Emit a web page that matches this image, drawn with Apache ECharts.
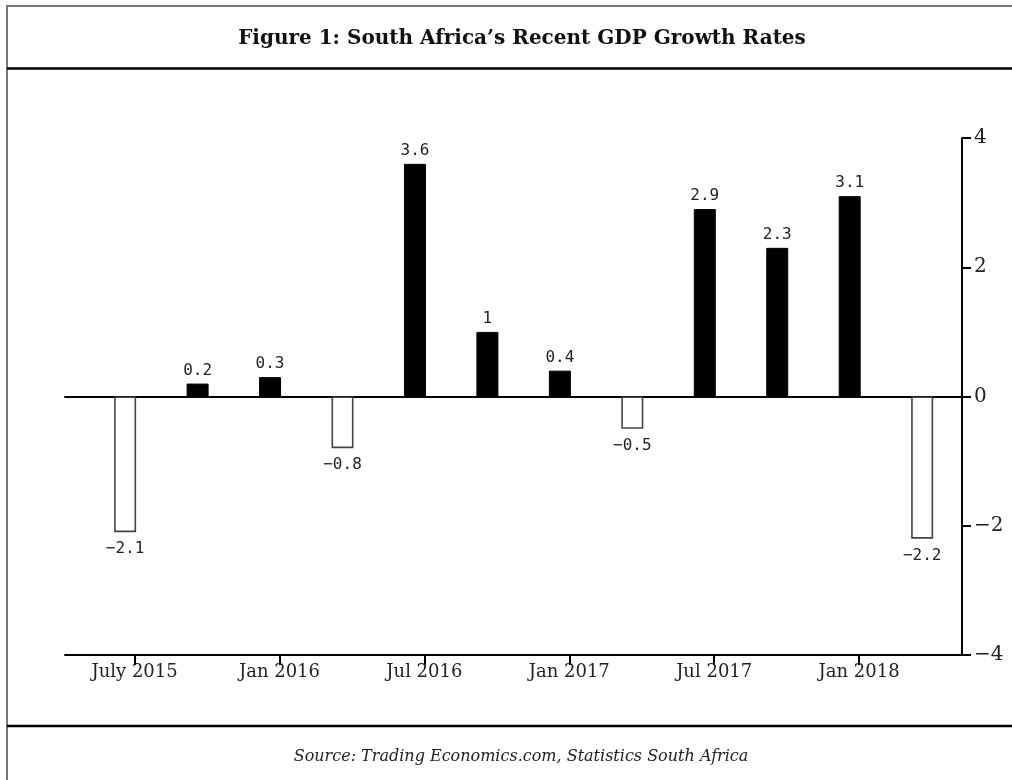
<!DOCTYPE html>
<html>
<head>
<meta charset="utf-8">
<script src="https://cdn.jsdelivr.net/npm/echarts@6/dist/echarts.min.js"></script>
<style>
html,body{margin:0;padding:0;background:#fff;}
#chart{width:1012px;height:780px;}
</style>
</head>
<body>
<div id="chart"></div>
<script>
// Quarterly GDP growth (annualised, %)
const quarters = ['Q3 2015','Q4 2015','Q1 2016','Q2 2016','Q3 2016','Q4 2016','Q1 2017','Q2 2017','Q3 2017','Q4 2017','Q1 2018','Q2 2018'];
const growth = [-2.1, 0.2, 0.3, -0.8, 3.6, 1, 0.4, -0.5, 2.9, 2.3, 3.1, -2.2];
const tickLabels = ['July 2015','Jan 2016','Jul 2016','Jan 2017','Jul 2017','Jan 2018'];
const yTicks = [-4, -2, 0, 2, 4];
const titleText = 'Figure 1: South Africa\u2019s Recent GDP Growth Rates';
const sourceText = 'Source: Trading Economics.com, Statistics South Africa';

const tickOffset = 0.13;
const tickPositions = tickLabels.map((_, k) => 2 * k + tickOffset);
const minus = s => String(s).replace('-', '\u2212');

const chart = echarts.init(document.getElementById('chart'), null, {renderer: 'canvas'});

const barData = growth.map((v, i) => ({
  value: [i, v],
  name: quarters[i],
  itemStyle: v >= 0
    ? {color: '#000', borderColor: '#000', borderWidth: 1}
    : {color: '#fff', borderColor: '#444', borderWidth: 1.6},
  label: v >= 0 ? {position: 'top', distance: 5} : {position: 'bottom', distance: 9}
}));

const option = {
  backgroundColor: '#fff',
  animation: false,
  title: [
    {
      text: titleText, left: 517, top: 24, textAlign: 'center',
      textStyle: {fontFamily: 'DejaVu Serif', fontWeight: 'bold', fontSize: 20, color: '#111'}
    },
    {
      text: sourceText, left: 516, top: 744, textAlign: 'center',
      textStyle: {fontFamily: 'DejaVu Serif', fontStyle: 'italic', fontWeight: 'normal', fontSize: 16, color: '#222'}
    }
  ],
  graphic: [
    {type: 'rect', shape: {x: 7, y: 6, width: 1100, height: 900}, style: {fill: null, stroke: '#777', lineWidth: 2}, silent: true},
    {type: 'line', shape: {x1: 7, y1: 68.5, x2: 1012, y2: 68.5}, style: {stroke: '#000', lineWidth: 2.5}, silent: true},
    {type: 'line', shape: {x1: 7, y1: 726, x2: 1012, y2: 726}, style: {stroke: '#000', lineWidth: 2.5}, silent: true}
  ],
  grid: {left: 65, right: 50, top: 138, bottom: 125, containLabel: false},
  xAxis: [
    {
      type: 'value', min: -0.83, max: 11.55, position: 'bottom',
      axisLine: {show: true, onZero: false, lineStyle: {color: '#000', width: 2}},
      axisTick: {show: true, length: 10, customValues: tickPositions, lineStyle: {color: '#000', width: 2}},
      axisLabel: {
        show: true, customValues: tickPositions, margin: 8,
        fontFamily: 'DejaVu Serif', fontSize: 18, color: '#222',
        formatter: v => {
          const k = tickPositions.findIndex(p => Math.abs(p - v) < 0.01);
          return k >= 0 ? tickLabels[k] : '';
        }
      },
      splitLine: {show: false}
    },
    {
      type: 'value', min: -0.83, max: 11.55, position: 'top',
      axisLine: {show: true, onZero: true, lineStyle: {color: '#000', width: 2}},
      axisTick: {show: false},
      axisLabel: {show: false},
      splitLine: {show: false}
    }
  ],
  yAxis: {
    type: 'value', position: 'right', min: -4, max: 4, interval: 2,
    axisLine: {show: true, onZero: false, lineStyle: {color: '#000', width: 2}},
    axisTick: {show: true, inside: false, length: 9, lineStyle: {color: '#000', width: 2}},
    axisLabel: {
      margin: 12, fontFamily: 'DejaVu Serif', fontSize: 20, color: '#222',
      formatter: v => yTicks.includes(v) ? minus(v) : ''
    },
    splitLine: {show: false}
  },
  series: [{
    type: 'bar',
    xAxisIndex: 0,
    yAxisIndex: 0,
    barWidth: 22,
    data: barData,
    label: {
      show: true,
      fontFamily: 'DejaVu Sans Mono', fontSize: 16, color: '#222',
      formatter: p => minus(p.value[1])
    }
  }]
};
chart.setOption(option);
</script>
</body>
</html>
